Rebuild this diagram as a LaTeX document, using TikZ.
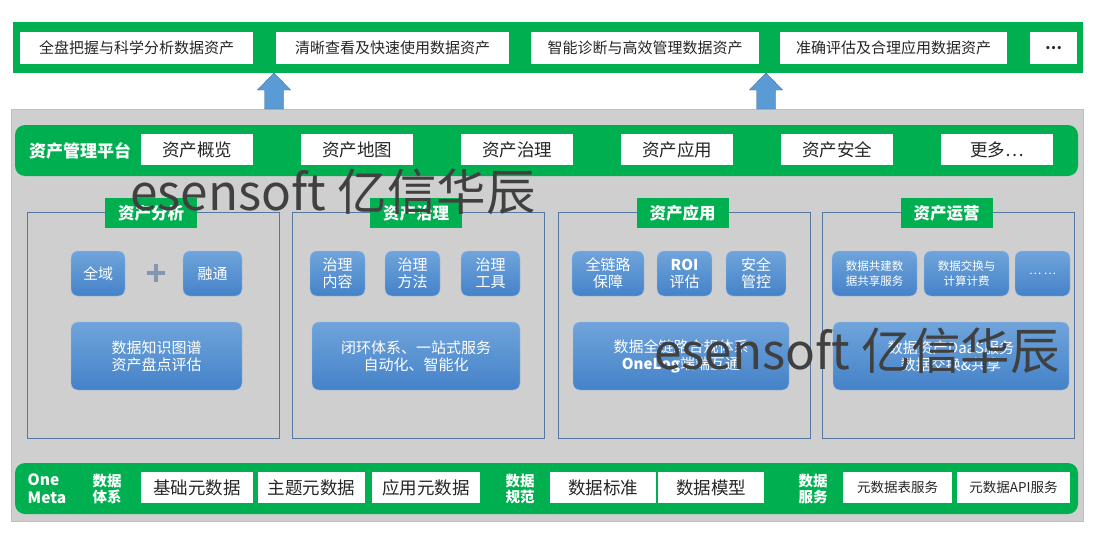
\documentclass[tikz,border=0pt]{standalone}
\usepackage{fontspec}
\setmainfont{Noto Sans CJK SC}
\usepackage{tikz}
\usepackage{xcolor}
\definecolor{ggreen}{RGB}{0,176,80}
\definecolor{panelgray}{RGB}{208,207,207}
\definecolor{edgegray}{RGB}{191,191,191}
\definecolor{panelblue}{RGB}{84,120,162}
\definecolor{boxtop}{RGB}{112,164,219}
\definecolor{boxbot}{RGB}{68,130,200}
\definecolor{arrowfill}{RGB}{91,155,213}
\definecolor{arrowedge}{RGB}{65,113,156}
\definecolor{wmark}{RGB}{64,64,64}
\definecolor{plusgray}{RGB}{132,151,176}

\tikzset{
  goalbox/.style={fill=white, inner sep=0pt, minimum height=32, text=black!85,
    font=\fontsize{15}{17}\selectfont},
  platbox/.style={fill=white, inner sep=0pt, minimum width=112, minimum height=31,
    text=black!85, font=\fontsize{17.5}{20}\selectfont},
  basebox/.style={fill=white, inner sep=0pt, minimum height=31, text=black!85,
    font=\fontsize{17.5}{20}\selectfont},
  titlebox/.style={fill=ggreen, text=white, inner sep=0pt, minimum width=92,
    minimum height=30, font=\bfseries\fontsize{16.5}{19}\selectfont},
  bluebox/.style={rounded corners=7pt, top color=boxtop, bottom color=boxbot,
    draw=boxtop!70!white, text=white, align=center, inner sep=0pt,
    font=\fontsize{15}{17}\selectfont},
  glabel/.style={text=white, align=center, inner sep=0pt,
    font=\bfseries\fontsize{14.5}{16}\selectfont},
  panel/.style={draw=panelblue, fill=panelgray, line width=0.8pt},
  wtext/.style={text=wmark, inner sep=0pt, font=\fontsize{49.5}{55}\selectfont}
}

\begin{document}
\begin{tikzpicture}[x=1pt,y=-1pt]
\useasboundingbox (0,0) rectangle (1097,535);

% Ziele oben
\fill[ggreen] (13,22) rectangle (1083,73);
\foreach \n/\x/\w/\t in {
g1/136.5/233/全盘把握与科学分析数据资产,
g2/392.5/233/清晰查看及快速使用数据资产,
g3/645/228/智能诊断与高效管理数据资产,
g4/893.5/227/准确评估及合理应用数据资产,
g5/1053.5/47/\textbf{…}}
\node[goalbox, minimum width=\w] (\n) at (\x,48) {\t};

% Grauer Rahmen
\draw[edgegray, fill=panelgray] (11,109) rectangle (1083,521);
\coordinate (base) at (11,109);

% Pfeile nach oben
\foreach \x in {274,766}
\draw[arrowedge, fill=arrowfill] (\x-9.5,109) -- (\x-9.5,90) -- (\x-16.5,90)
  -- (\x,73) -- (\x+16.5,90) -- (\x+9.5,90) -- (\x+9.5,109) -- cycle;

% Plattform
\fill[ggreen, rounded corners=10pt] (15,125) rectangle (1078,176);
\node[glabel, font=\bfseries\fontsize{17}{19}\selectfont] (plat) at (80,151) {资产管理平台};
\foreach \i/\x/\t in {
1/197/资产概览, 2/357/资产地图, 3/517/资产治理,
4/677/资产应用, 5/837/资产安全, 6/997/更多…}
\node[platbox] (p\i) at (\x,149.5) {\t};

% Vier Bereiche
\foreach \i/\x in {1/27, 2/292, 3/558, 4/822}
\draw[panel] (\x,212) rectangle ++(252,226);

\foreach \i/\x/\t in {
1/151/资产分析, 2/416/资产治理, 3/682.5/资产应用, 4/946.5/资产运营}
\node[titlebox] (t\i) at (\x,213) {\t};

% kleine Kaesten
\foreach \n/\x/\w/\t in {
a1/98/54/全域, a2/212.5/59/融通,
b1/337.5/55/{治理\\内容}, b2/412.5/55/{治理\\方法}, b3/490.5/59/{治理\\工具},
c1/608/72/{全链路\\保障}, c2/684.5/55/{\textbf{ROI}\\评估}, c3/756/60/{安全\\管控}}
\node[bluebox, minimum width=\w, minimum height=45] (\n) at (\x,273.5) {\t};

\foreach \n/\x/\w/\t in {
d1/874.5/85/{数据共建数\\据共享服务}, d2/966.5/85/{数据交换与\\计算计费}, d3/1042.5/55/{… …}}
\node[bluebox, minimum width=\w, minimum height=45,
  font=\fontsize{11.5}{15}\selectfont] (\n) at (\x,273.5) {\t};

% Plus
\draw[plusgray, line width=3.5pt] (147,273) -- (165,273) (156,264) -- (156,282);

% grosse Kaesten
\foreach \n/\x/\w/\t in {
A/156.5/171/{数据知识图谱\\资产盘点评估},
B/416/208/{闭环体系、一站式服务\\自动化、智能化},
C/681/216/{数据全链路合规体系\\\textbf{OneLog}端端互通},
D/951/236/{数据资产DaaS服务\\数据交换\&共享}}
\node[bluebox, minimum width=\w, minimum height=68] (\n) at (\x,356) {\t};

% OneMeta unten
\fill[ggreen, rounded corners=10pt] (15,463) rectangle (1078,514);
\node[glabel, align=left, font=\bfseries\fontsize{15.5}{18}\selectfont] (om) at (47,489) {One\\Meta};
\node[glabel] (l1) at (107,489) {数据\\体系};
\node[glabel] (l2) at (520,489) {数据\\规范};
\node[glabel] (l3) at (813,489) {数据\\服务};

\foreach \n/\x/\w/\t in {
m1/197/112/基础元数据, m2/311.5/107/主题元数据, m3/426/108/应用元数据,
m4/603/106/数据标准, m5/711/106/数据模型}
\node[basebox, minimum width=\w] (\n) at (\x,487.5) {\t};
\foreach \n/\x/\w/\t in {
m6/897.5/109/元数据表服务, m7/1013.5/113/元数据API服务}
\node[basebox, minimum width=\w, font=\fontsize{13.5}{15}\selectfont] (\n) at (\x,487.5) {\t};

% Wasserzeichen
\node[wtext] (wm1) at (333,192) {esensoft 亿信华辰};
\node[wtext] (wm2) at (857,351) {esensoft 亿信华辰};

\end{tikzpicture}
\end{document}
